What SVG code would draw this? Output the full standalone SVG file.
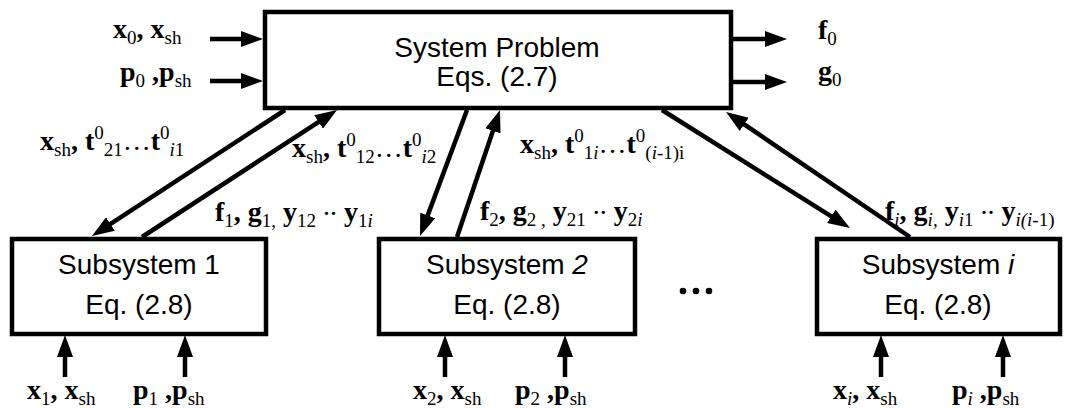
<svg xmlns="http://www.w3.org/2000/svg" width="1066" height="408" viewBox="0 0 1066 408">
<style>
.box{fill:#fff;stroke:#000;stroke-width:4.5}
.bt{font-family:"Liberation Sans",Arial,sans-serif;font-size:28px;fill:#000;text-anchor:middle}
.lbl{font-family:"Liberation Serif","Times New Roman",serif;font-size:28px;font-weight:bold;fill:#000}
.s{font-size:19px;font-weight:normal}
.it{font-style:italic}
.n{font-weight:normal}
.c line{stroke:#000;stroke-width:4.5;marker-end:url(#ah)}
</style>
<defs>
<marker id="ah" viewBox="0 0 22 16" markerWidth="22" markerHeight="16" refX="8" refY="8" orient="auto" markerUnits="userSpaceOnUse">
<path d="M0,0 L22,8 L0,16 z" fill="#000"/>
</marker>
</defs>
<rect width="1066" height="408" fill="#fff"/>
<g id="system">
<rect class="box" x="265" y="12" width="466" height="96"/>
<text class="bt" x="497" y="57">System Problem</text>
<text class="bt" x="497" y="86">Eqs. (2.7)</text>
</g>
<g id="sub1">
<rect class="box" x="12" y="239" width="254" height="95"/>
<text class="bt" x="139" y="274">Subsystem 1</text>
<text class="bt" x="139" y="314">Eq. (2.8)</text>
</g>
<g id="sub2">
<rect class="box" x="379" y="239" width="256" height="95"/>
<text class="bt" x="507" y="274">Subsystem <tspan class="it">2</tspan></text>
<text class="bt" x="507" y="314">Eq. (2.8)</text>
</g>
<g id="subi">
<rect class="box" x="817" y="239" width="243" height="95"/>
<text class="bt" x="938" y="274">Subsystem <tspan class="it">i</tspan></text>
<text class="bt" x="938" y="314">Eq. (2.8)</text>
</g>
<g id="dots" fill="#000">
<circle cx="683" cy="291" r="3.3"/>
<circle cx="696" cy="291" r="3.3"/>
<circle cx="709" cy="291" r="3.3"/>
</g>
<g class="c" id="connectors">
<line x1="210" y1="39" x2="249" y2="39"/>
<line x1="210" y1="81" x2="249" y2="81"/>
<line x1="733" y1="39" x2="773" y2="39"/>
<line x1="733" y1="82" x2="773" y2="82"/>
<line x1="65" y1="377" x2="65" y2="349"/>
<line x1="185" y1="377" x2="185" y2="349"/>
<line x1="445" y1="377" x2="445" y2="349"/>
<line x1="565" y1="377" x2="565" y2="349"/>
<line x1="881" y1="377" x2="881" y2="349"/>
<line x1="1003" y1="377" x2="1003" y2="349"/>
<line x1="285" y1="110" x2="103.7" y2="228.3"/>
<line x1="142" y1="237" x2="325.3" y2="117.6"/>
<line x1="467" y1="110" x2="424.9" y2="222.9"/>
<line x1="457" y1="237" x2="495.5" y2="123.3"/>
<line x1="662" y1="110" x2="838.1" y2="220.6"/>
<line x1="910" y1="237" x2="737.6" y2="119.9"/>
</g>
<g id="labels">
<text class="lbl" x="113" y="38">x<tspan class="s" dy="6">0</tspan><tspan dy="-6">, x</tspan><tspan class="s" dy="6">sh</tspan></text>
<text class="lbl" x="120" y="81">p<tspan class="s" dy="6">0</tspan><tspan dy="-6"> ,p</tspan><tspan class="s" dy="6">sh</tspan></text>
<text class="lbl" x="818" y="39">f<tspan class="s" dy="6">0</tspan></text>
<text class="lbl" x="818" y="80">g<tspan class="s" dy="6">0</tspan></text>
<text class="lbl" x="40" y="150">x<tspan class="s" dy="6">sh</tspan><tspan dy="-6">, t</tspan><tspan class="s" dy="-11">0</tspan><tspan class="s" dy="17">21</tspan><tspan class="n" dy="-6">…</tspan><tspan>t</tspan><tspan class="s" dy="-11">0</tspan><tspan class="s it" dy="17">i</tspan><tspan class="s">1</tspan></text>
<text class="lbl" x="292" y="157">x<tspan class="s" dy="6">sh</tspan><tspan dy="-6">, t</tspan><tspan class="s" dy="-11">0</tspan><tspan class="s" dy="17">12</tspan><tspan class="n" dy="-6">…</tspan><tspan>t</tspan><tspan class="s" dy="-11">0</tspan><tspan class="s it" dy="17">i</tspan><tspan class="s">2</tspan></text>
<text class="lbl" x="520" y="153">x<tspan class="s" dy="6">sh</tspan><tspan dy="-6">, t</tspan><tspan class="s" dy="-11">0</tspan><tspan class="s" dy="17">1</tspan><tspan class="s it">i</tspan><tspan class="n" dy="-6">…</tspan><tspan>t</tspan><tspan class="s" dy="-11">0</tspan><tspan class="s" dy="17">(</tspan><tspan class="s it">i</tspan><tspan class="s">-1)i</tspan></text>
<text class="lbl" x="215" y="221">f<tspan class="s" dy="6">1</tspan><tspan dy="-6">, g</tspan><tspan class="s" dy="6">1,</tspan><tspan dy="-6"> y</tspan><tspan class="s" dy="6">12</tspan><tspan class="n" dy="-12"> ..</tspan><tspan dy="6"> y</tspan><tspan class="s" dy="6">1</tspan><tspan class="s it">i</tspan></text>
<text class="lbl" x="480" y="220">f<tspan class="s" dy="6">2</tspan><tspan dy="-6">, g</tspan><tspan class="s" dy="6">2 ,</tspan><tspan dy="-6"> y</tspan><tspan class="s" dy="6">21</tspan><tspan class="n" dy="-12"> ..</tspan><tspan dy="6"> y</tspan><tspan class="s" dy="6">2</tspan><tspan class="s it">i</tspan></text>
<text class="lbl" x="885" y="220">f<tspan class="s it" dy="6">i</tspan><tspan dy="-6">, g</tspan><tspan class="s it" dy="6">i,</tspan><tspan dy="-6"> y</tspan><tspan class="s it" dy="6">i</tspan><tspan class="s">1</tspan><tspan class="n" dy="-12"> ..</tspan><tspan dy="6"> y</tspan><tspan class="s it" dy="6">i(i</tspan><tspan class="s">-1)</tspan></text>
<text class="lbl" x="27" y="399">x<tspan class="s" dy="6">1</tspan><tspan dy="-6">, x</tspan><tspan class="s" dy="6">sh</tspan></text>
<text class="lbl" x="133" y="399">p<tspan class="s" dy="6">1</tspan><tspan dy="-6"> ,p</tspan><tspan class="s" dy="6">sh</tspan></text>
<text class="lbl" x="413" y="399">x<tspan class="s" dy="6">2</tspan><tspan dy="-6">, x</tspan><tspan class="s" dy="6">sh</tspan></text>
<text class="lbl" x="515" y="399">p<tspan class="s" dy="6">2</tspan><tspan dy="-6"> ,p</tspan><tspan class="s" dy="6">sh</tspan></text>
<text class="lbl" x="833" y="399">x<tspan class="s it" dy="6">i</tspan><tspan dy="-6">, x</tspan><tspan class="s" dy="6">sh</tspan></text>
<text class="lbl" x="952" y="399">p<tspan class="s it" dy="6">i</tspan><tspan dy="-6"> ,p</tspan><tspan class="s" dy="6">sh</tspan></text>
</g>
</svg>
